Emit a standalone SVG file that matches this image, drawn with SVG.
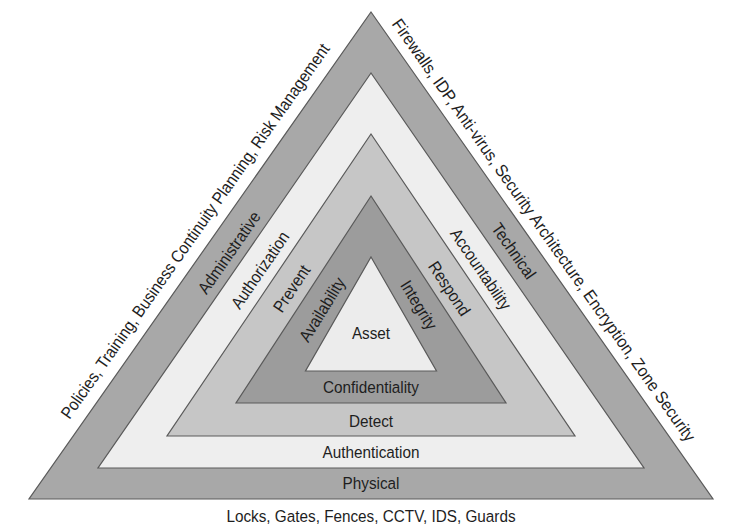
<svg xmlns="http://www.w3.org/2000/svg" width="742" height="530" viewBox="0 0 742 530">
<style>
.tri{stroke:#5a5a5a;stroke-width:1.2;stroke-linejoin:miter}
.t1{fill:#a8a8a8}.t2{fill:#eeeeee}.t3{fill:#c6c6c6}.t4{fill:#9c9c9c}.t5{fill:#ececec}
text{font-family:"Liberation Sans",Arial,sans-serif;font-size:17px;fill:#1e1e1e;text-anchor:middle}
</style>
<rect width="742" height="530" fill="#ffffff"/>
<g id="physical">
<polygon class="tri t1" points="371,12 713,499 29,499"/>
<text transform="translate(371,489) scale(0.9,1)">Physical</text>
<text transform="translate(371,521.5) scale(0.9,1)">Locks, Gates, Fences, CCTV, IDS, Guards</text>
<text transform="translate(195,231) rotate(-54.9) scale(0.9,1)" y="6">Policies, Training, Business Continuity Planning, Risk Management</text>
<text transform="translate(544,230) rotate(54.8) scale(0.93,1)" y="6">Firewalls, IDP, Anti-virus, Security Architecture, Encryption, Zone Security</text>
<text transform="translate(229,252.5) rotate(-55.1) scale(0.9,1)" y="6">Administrative</text>
<text transform="translate(514,251) rotate(55.1) scale(0.9,1)" y="6">Technical</text>
</g>
<g id="authentication">
<polygon class="tri t2" points="371,73 644,468 98,468"/>
<text transform="translate(371,458) scale(0.9,1)">Authentication</text>
<text transform="translate(260,270) rotate(-55.6) scale(0.9,1)" y="6">Authorization</text>
<text transform="translate(481,269) rotate(55.6) scale(0.9,1)" y="6">Accountability</text>
</g>
<g id="detect">
<polygon class="tri t3" points="371,134 575,436 167,436"/>
<text transform="translate(371,427) scale(0.9,1)">Detect</text>
<text transform="translate(291.5,288.5) rotate(-56.4) scale(0.9,1)" y="6">Prevent</text>
<text transform="translate(449.5,288.5) rotate(56.4) scale(0.9,1)" y="6">Respond</text>
</g>
<g id="confidentiality">
<polygon class="tri t4" points="371,196 506,403 236,403"/>
<text transform="translate(371,393) scale(0.9,1)">Confidentiality</text>
<text transform="translate(322,309.5) rotate(-58.5) scale(0.9,1)" y="6">Availability</text>
<text transform="translate(419,305) rotate(58.5) scale(0.9,1)" y="6">Integrity</text>
</g>
<g id="asset">
<polygon class="tri t5" points="371,257 436.5,371 305.5,371"/>
<text transform="translate(371,339) scale(0.9,1)">Asset</text>
</g>
</svg>
